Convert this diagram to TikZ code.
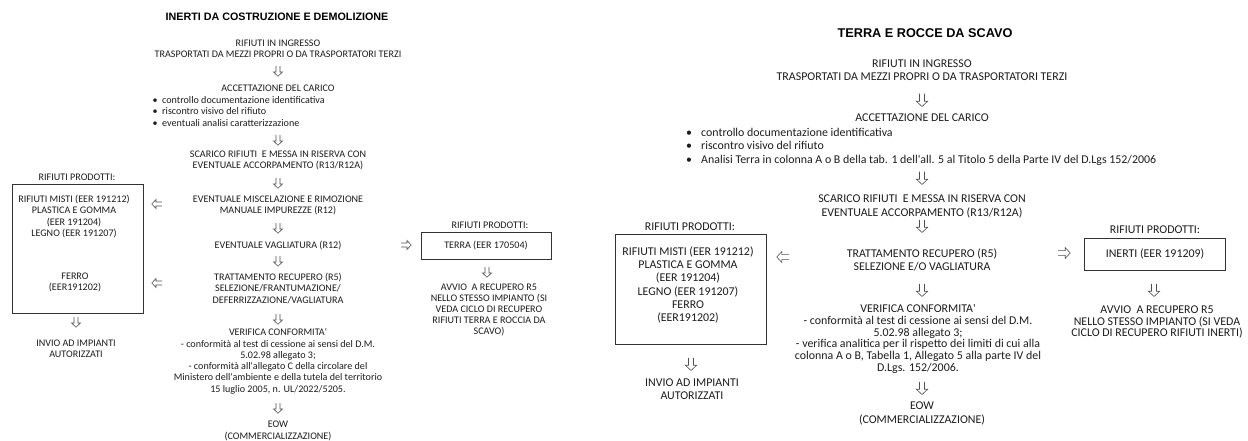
\documentclass[tikz,border=0pt]{standalone}
\usepackage{fontspec}
\newfontfamily\calfont{Carlito}
\newfontfamily\arialfont{Liberation Sans}
\usetikzlibrary{calc}
\definecolor{txtc}{HTML}{1C1C1C}
\definecolor{arrc}{HTML}{505050}
\definecolor{boxc}{HTML}{333333}
\tikzset{
  L/.style={font=\calfont\fontsize{10.1}{11.3}\selectfont, align=center, inner sep=0pt, text=txtc},
  R/.style={font=\calfont\fontsize{11.9}{13.2}\selectfont, align=center, inner sep=0pt, text=txtc},
  ttlL/.style={font=\arialfont\bfseries\fontsize{10.75}{13}\selectfont, inner sep=0pt, text=black},
  ttlR/.style={font=\arialfont\bfseries\fontsize{12.7}{15}\selectfont, inner sep=0pt, text=black},
  boxn/.style={draw=boxc, line width=0.8pt, inner sep=0pt},
  harrow/.pic={\draw[arrc, line width=0.6pt, line join=miter]
     (-2,-5) -- (-2,1) -- (-4.5,1) -- (0,5.2) -- (4.5,1) -- (2,1) -- (2,-5);},
}
\newcommand{\blL}{\makebox[9.5pt][l]{\textbullet}}
\newcommand{\blR}{\makebox[15pt][l]{\textbullet}}
\begin{document}
\begin{tikzpicture}[x=1pt,y=-1pt]
\useasboundingbox (0,0) rectangle (1248,441);

% ---------------- LEFT: INERTI ----------------
\node[ttlL] (t1) at (277,17) {INERTI DA COSTRUZIONE E DEMOLIZIONE};
\node[L] (in1) at (278,48.5) {RIFIUTI IN INGRESSO\\TRASPORTATI DA MEZZI PROPRI O DA TRASPORTATORI TERZI};
\pic at (278,71) {harrow};
\node[L] (acc1) at (278,88) {ACCETTAZIONE DEL CARICO};
\node[L, align=left, anchor=west, font=\calfont\fontsize{10.1}{11.5}\selectfont] (bul1) at (152.5,111.5)
  {\blL controllo documentazione identificativa\\\blL riscontro visivo del rifiuto\\\blL eventuali analisi caratterizzazione};
\pic at (278,140) {harrow};
\node[L] (sc1) at (278,160.5) {SCARICO RIFIUTI\ \ E MESSA IN RISERVA CON\\EVENTUALE ACCORPAMENTO (R13/R12A)};
\pic at (278,183) {harrow};
\node[L] (mi1) at (278,205.5) {EVENTUALE MISCELAZIONE E RIMOZIONE\\MANUALE IMPUREZZE (R12)};
\pic at (278,228) {harrow};
\node[L] (va1) at (278,246) {EVENTUALE VAGLIATURA (R12)};
\pic at (278,261) {harrow};
\node[L] (tr1) at (278,288.5) {TRATTAMENTO RECUPERO (R5)\\SELEZIONE/FRANTUMAZIONE/\\DEFERRIZZAZIONE/VAGLIATURA};
\pic at (278,319) {harrow};
\node[L] (ve1) at (278,361.5) {VERIFICA CONFORMITA'\\- conformità al test di cessione ai sensi del D.M.\\5.02.98 allegato 3;\\- conformità all'allegato C della circolare del\\Ministero dell'ambiente e della tutela del territorio\\15 luglio 2005, n. UL/2022/5205.};
\pic at (278,408) {harrow};
\node[L] (eo1) at (278,431) {EOW\\(COMMERCIALIZZAZIONE)};

% left products
\node[L] (pl1) at (77,177) {RIFIUTI PRODOTTI:};
\node[boxn, anchor=north west, minimum width=131pt, minimum height=129pt] (bx1) at (12,184) {};
\node[L] (bt1) at (74,216.5) {RIFIUTI MISTI (EER 191212)\\PLASTICA E GOMMA\\(EER 191204)\\LEGNO (EER 191207)};
\node[L] (bt2) at (75,282.5) {FERRO\\(EER191202)};
\pic[rotate=-90] at (157,204) {harrow};
\pic[rotate=-90] at (157,283) {harrow};
\pic at (76,322) {harrow};
\node[L] (iv1) at (76,349) {INVIO AD IMPIANTI\\AUTORIZZATI};

% middle products
\pic[rotate=90] at (406,245) {harrow};
\node[L] (pl2) at (490,225) {RIFIUTI PRODOTTI:};
\node[boxn, L, draw=boxc, minimum width=130pt, minimum height=27pt] (bx2) at (486,245.5) {TERRA (EER 170504)};
\pic at (487,272) {harrow};
\node[L, font=\calfont\fontsize{10.1}{11}\selectfont] (av2) at (489,310) {AVVIO\ \ A RECUPERO R5\\NELLO STESSO IMPIANTO (SI\\VEDA CICLO DI RECUPERO\\RIFIUTI TERRA E ROCCIA DA\\SCAVO)};

% ---------------- RIGHT: TERRA E ROCCE ----------------
\node[ttlR] (t2) at (925,33) {TERRA E ROCCE DA SCAVO};
\node[R] (in2) at (922,70) {RIFIUTI IN INGRESSO\\TRASPORTATI DA MEZZI PROPRI O DA TRASPORTATORI TERZI};
\pic[scale=1.25] at (922,100) {harrow};
\node[R] (acc2) at (922,118) {ACCETTAZIONE DEL CARICO};
\node[R, align=left, anchor=west, font=\calfont\fontsize{11.9}{13.5}\selectfont] (bul2) at (686,146.5)
  {\blR controllo documentazione identificativa\\\blR riscontro visivo del rifiuto\\\blR Analisi Terra in colonna A o B della tab. 1 dell'all. 5 al Titolo 5 della Parte IV del D.Lgs 152/2006};
\pic[scale=1.25] at (922,178) {harrow};
\node[R] (sc2) at (922,206.5) {SCARICO RIFIUTI\ \ E MESSA IN RISERVA CON\\EVENTUALE ACCORPAMENTO (R13/R12A)};
\pic[scale=1.25] at (922,226) {harrow};
\node[R] (tr2) at (922,260) {TRATTAMENTO RECUPERO (R5)\\SELEZIONE E/O VAGLIATURA};
\pic[scale=1.25] at (922,290) {harrow};
\node[R, font=\calfont\fontsize{11.9}{11.7}\selectfont] (ve2) at (918,339) {VERIFICA CONFORMITA'\\- conformità al test di cessione ai sensi del D.M.\\5.02.98 allegato 3;\\- verifica analitica per il rispetto dei limiti di cui alla\\colonna A o B, Tabella 1, Allegato 5 alla parte IV del\\D.Lgs. 152/2006.};
\pic[scale=1.25] at (922,388) {harrow};
\node[R] (eo2) at (922,413.5) {EOW\\(COMMERCIALIZZAZIONE)};

% right-left products
\node[R] (pl3) at (690,227) {RIFIUTI PRODOTTI:};
\node[boxn, anchor=north west, minimum width=151pt, minimum height=110pt] (bx3) at (615,234) {};
\node[R, font=\calfont\fontsize{11.9}{13.2}\selectfont] (bt3) at (688,285) {RIFIUTI MISTI (EER 191212)\\PLASTICA E GOMMA\\(EER 191204)\\LEGNO (EER 191207)\\FERRO\\(EER191202)};
\pic[rotate=-90, scale=1.2] at (783,257) {harrow};
\pic[scale=1.25] at (691,364) {harrow};
\node[R, font=\calfont\fontsize{11.9}{12.5}\selectfont] (iv3) at (692,389) {INVIO AD IMPIANTI\\AUTORIZZATI};

% right-right products
\pic[rotate=90, scale=1.2] at (1064,253) {harrow};
\node[R] (pl4) at (1155,230) {RIFIUTI PRODOTTI:};
\node[boxn, R, draw=boxc, minimum width=141pt, minimum height=32pt] (bx4) at (1155,254) {INERTI (EER 191209)};
\pic[scale=1.25] at (1154,290) {harrow};
\node[R, font=\calfont\fontsize{11.9}{11.7}\selectfont] (av4) at (1157,322) {AVVIO\ \ A RECUPERO R5\\NELLO STESSO IMPIANTO (SI VEDA\\CICLO DI RECUPERO RIFIUTI INERTI)};
\end{tikzpicture}
\end{document}
